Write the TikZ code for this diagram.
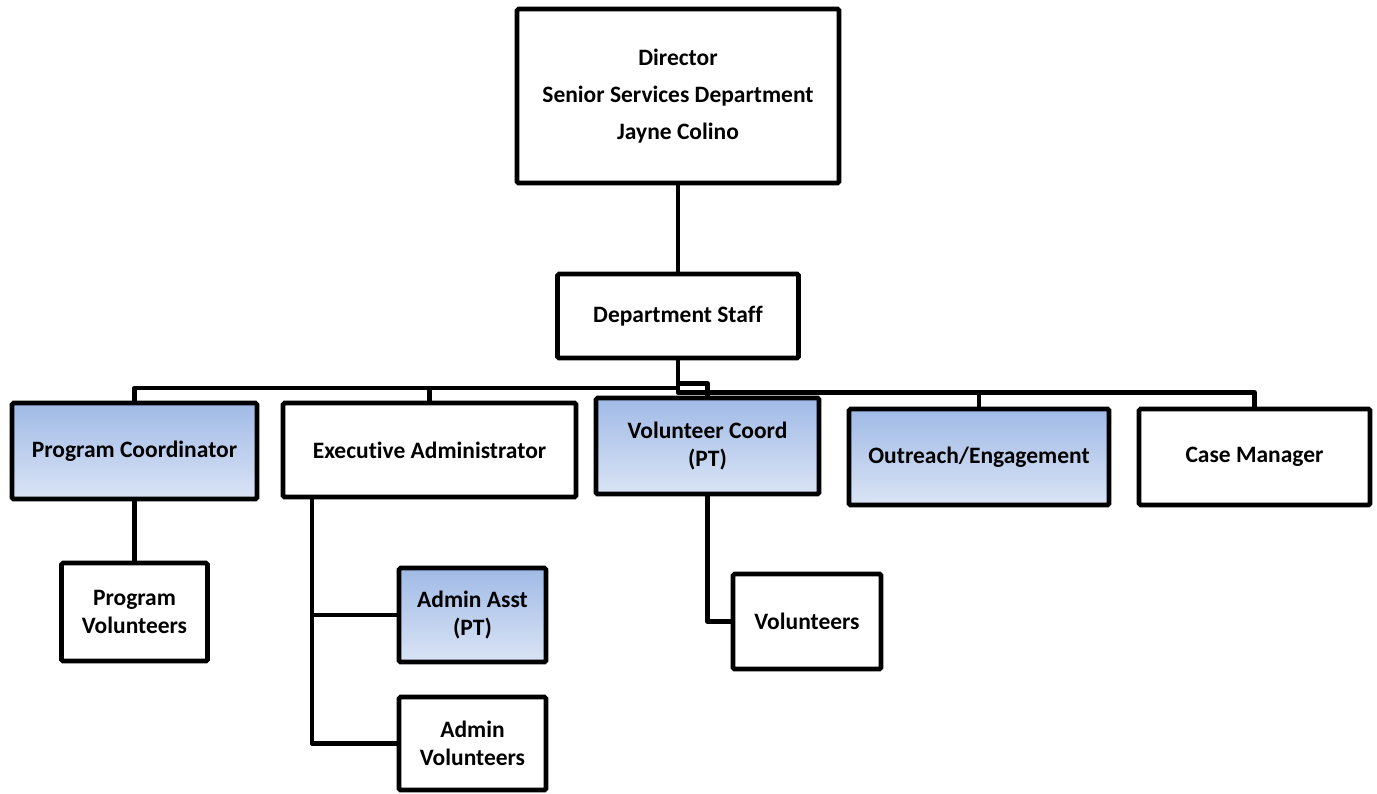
\documentclass[tikz,border=0pt]{standalone}
\usepackage{fontspec}
\setmainfont{Carlito}[Ligatures=NoCommon]
\definecolor{gtop}{RGB}{160,186,230}
\definecolor{gbot}{RGB}{218,228,245}
\begin{document}
\begin{tikzpicture}[x=1pt,y=-1pt,
  box/.style={draw=black, line width=4.6pt, rounded corners=1.5pt, fill=white, inner sep=0pt,
    align=center, font=\bfseries\fontsize{23.5}{28}\selectfont},
  bluebox/.style={box, top color=gtop, bottom color=gbot},
  conn/.style={draw=black, line width=4.6pt, line join=round}]
\useasboundingbox (0,0) rectangle (1377,793);

\node[box, minimum width=322pt, minimum height=174pt, font=\bfseries\fontsize{23.5}{37}\selectfont] (dir) at (678,96) {Director\\Senior Services Department\\Jayne Colino};
\node[box, minimum width=241pt, minimum height=84pt] (dept) at (678,316) {Department Staff};

\node[bluebox, minimum width=245pt, minimum height=96pt] (pc) at (134.5,451) {Program Coordinator};
\node[box, minimum width=293pt, minimum height=94pt] (ea) at (429.5,450) {Executive Administrator};
\node[bluebox, minimum width=223pt, minimum height=96pt] (vc) at (707.5,446) {Volunteer Coord\\(PT)};
\node[bluebox, minimum width=260pt, minimum height=96pt] (oe) at (979,457) {Outreach/Engagement};
\node[box, minimum width=231pt, minimum height=96pt] (cm) at (1254.5,457) {Case Manager};

\node[box, minimum width=146pt, minimum height=98pt] (pv) at (134.5,612) {Program\\Volunteers};
\node[bluebox, minimum width=147pt, minimum height=94pt] (aa) at (472.5,615) {Admin Asst\\(PT)};
\node[box, minimum width=147pt, minimum height=93pt] (av) at (472.5,743.5) {Admin\\Volunteers};
\node[box, minimum width=148pt, minimum height=95pt] (vol) at (807,621.5) {Volunteers};

\coordinate (busL) at (678,388);
\coordinate (busR) at (678,392.5);
\coordinate (busV) at (678,383.5);
\coordinate (eaTrunk) at (312,497);

\draw[conn] (dir.south) -- (dept.north);
\draw[conn] (dept.south) -- (busL) -| (pc.north);
\draw[conn] (busL) -| (ea.north);
\draw[conn] (dept.south) -- (busV) -| (vc.north);
\draw[conn] (dept.south) -- (busR) -| (oe.north);
\draw[conn] (busR) -| (cm.north);
\draw[conn] (pc.south) -- (pv.north);
\draw[conn] (eaTrunk) |- (av.west);
\draw[conn] (eaTrunk |- aa.west) -- (aa.west);
\draw[conn] (vc.south) |- (vol.west);
\end{tikzpicture}
\end{document}
